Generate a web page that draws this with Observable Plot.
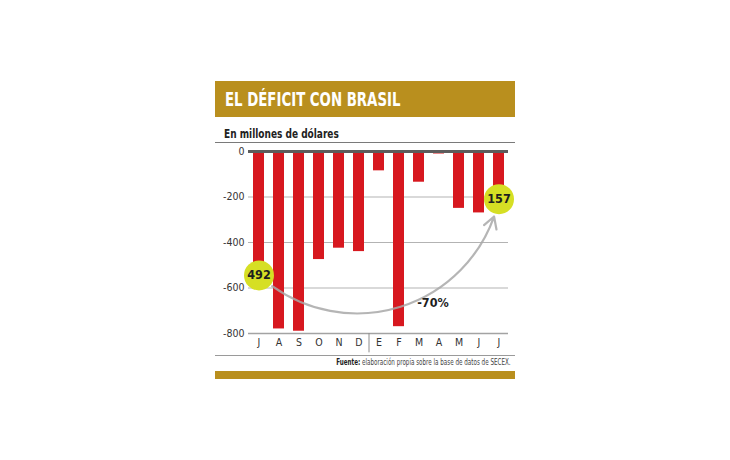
<!DOCTYPE html>
<html>
<head>
<meta charset="utf-8">
<script src="https://cdn.jsdelivr.net/npm/d3@7"></script>
<script src="https://cdn.jsdelivr.net/npm/@observablehq/plot@0.6"></script>
<style>
  html, body { margin: 0; padding: 0; background: #fff; }
  body { width: 730px; height: 460px; position: relative; overflow: hidden;
         font-family: "DejaVu Sans Condensed", "Liberation Sans", sans-serif; }
  #card { position: absolute; left: 215px; top: 81px; width: 300px; }
  #head { height: 36px; background: #b98f1e; }
  #title { position: absolute; left: 10px; top: 0; line-height: 37px; color: #fff; font-weight: bold;
           font-size: 20px; white-space: nowrap; transform: scaleX(0.74); transform-origin: 0 0; }
  #sub { position: absolute; top: 45px; left: 9px; font-size: 12.5px; font-weight: bold; color: #222;
         white-space: nowrap; transform: scaleX(0.8); transform-origin: 0 0; }
  #rule1 { position: absolute; top: 61px; left: 0; width: 300px; height: 1px; background: #7a7a7a; }
  #chart { position: absolute; top: 62px; left: 0; }
  #rule2 { position: absolute; top: 274px; left: 0; width: 300px; height: 1px; background: #9a9a9a; }
  #src { position: absolute; top: 277px; right: 4px; font-size: 8px; color: #444; white-space: nowrap;
         transform: scaleX(0.78); transform-origin: 100% 0; }
  #src b { color: #222; }
  #foot { position: absolute; top: 290px; left: 0; width: 300px; height: 8px; background: #b98f1e; }
</style>
</head>
<body>
<div id="card">
  <div id="head"><div id="title">EL DÉFICIT CON BRASIL</div></div>
  <div id="sub">En millones de dólares</div>
  <div id="rule1"></div>
  <div id="chart"></div>
  <div id="rule2"></div>
  <div id="src"><b>Fuente:</b> elaboración propia sobre la base de datos de SECEX.</div>
  <div id="foot"></div>
</div>
<script>
// Monthly trade balance with Brazil, millions of dollars (July to July)
const months = ["J", "A", "S", "O", "N", "D", "E", "F", "M", "A", "M", "J", "J"];
const balance = [-492, -780, -790, -475, -425, -440, -85, -770, -135, -11, -250, -270, -157];
const yTicks = [0, -200, -400, -600, -800];
const yearStart = 6; // index of "E" (January)

const rows = months.map((m, i) => ({i, month: m, value: balance[i]}));
const first = rows[0];
const last = rows[rows.length - 1];
const labeled = [first, last];
// change in the size of the deficit, rounded to tens of percent
const pct = Math.round(((Math.abs(last.value) - Math.abs(first.value)) / Math.abs(first.value)) * 10) * 10;
const changeNote = [{text: `${pct}%`, i: 9, value: -668}];

const font = '"DejaVu Sans Condensed", "Liberation Sans", sans-serif';

const chart = Plot.plot({
  width: 300,
  height: 212,
  marginLeft: 33,
  marginRight: 7,
  marginTop: 8,
  marginBottom: 22,
  style: {fontFamily: font, fontSize: "10.5px", color: "#333", background: "transparent", overflow: "visible"},
  x: {type: "band", domain: d3.range(months.length), paddingInner: 0.45, paddingOuter: 0.225,
      tickSize: 0, tickPadding: 5, tickFormat: (i) => months[i], label: null},
  y: {domain: [-800, 0], ticks: yTicks, tickSize: 0, tickPadding: 4,
      tickFormat: (d) => String(d), label: null},
  marks: [
    Plot.ruleY(yTicks.filter((d) => d !== 0 && d !== -800), {stroke: "#b3b3b3", strokeWidth: 1}),
    Plot.ruleY([-800], {stroke: "#a3a3a3", strokeWidth: 1.5}),
    Plot.barY(rows, {x: "i", y: "value", fill: "#d7181f"}),
    Plot.ruleY([0], {stroke: "#5c5c5c", strokeWidth: 3}),
    // year separator between December and January
    Plot.ruleX([yearStart], {x: (d) => d, y1: -800, y2: -885, dx: -10, stroke: "#8c8c8c", strokeWidth: 1}),
    Plot.arrow([{x1: first.i, y1: first.value, x2: last.i, y2: last.value}], {
      x1: "x1", y1: "y1", x2: "x2", y2: "y2", dy: 12,
      bend: -60, insetStart: 17, insetEnd: 18, headLength: 9,
      stroke: "#a8a8a8", strokeWidth: 2.2, strokeOpacity: 0.85
    }),
    Plot.dot(labeled, {x: "i", y: "value", dy: 12, r: 15, fill: "#d6df24"}),
    Plot.text(labeled, {x: "i", y: "value", dy: 12, text: (d) => String(Math.abs(d.value)),
      fontWeight: "bold", fontSize: 12.5, fill: "#1e1e1e"}),
    Plot.text(changeNote, {x: "i", y: "value", text: "text", dx: -6,
      fontWeight: "bold", fontSize: 12.5, fill: "#1e1e1e"})
  ]
});
document.getElementById("chart").append(chart);
</script>
</body>
</html>
